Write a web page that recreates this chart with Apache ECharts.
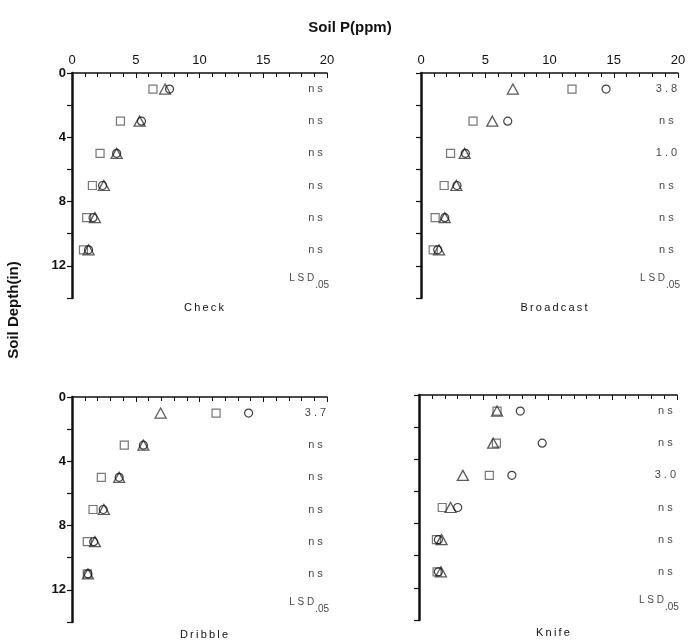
<!DOCTYPE html>
<html>
<head>
    <meta charset="utf-8">
    <title>soil p</title>
    <script src="https://cdn.jsdelivr.net/npm/echarts@6/dist/echarts.min.js"></script>
</head>
<body style="margin:0;background:#fff;">
    <div id="main" style="width: 689px;height:640px;"></div>
    <script type="text/javascript">
    // depth (in) of each row of points
    var depths = [1, 3, 5, 7, 9, 11];
    var yTickLabels = [0, 4, 8, 12];
    var panelNames = ['Check', 'Broadcast', 'Dribble', 'Knife'];

    // soil P (ppm)
    var checkSquare = [6.35, 3.8, 2.2, 1.6, 1.15, 0.9];
    var checkTriangle = [7.3, 5.3, 3.5, 2.5, 1.8, 1.3];
    var checkCircle = [7.65, 5.45, 3.5, 2.4, 1.65, 1.3];
    var broadcastSquare = [11.75, 4.05, 2.3, 1.8, 1.1, 0.95];
    var broadcastTriangle = [7.15, 5.55, 3.4, 2.75, 1.85, 1.4];
    var broadcastCircle = [14.4, 6.75, 3.45, 2.8, 1.85, 1.3];
    var dribbleSquare = [11.3, 4.1, 2.3, 1.65, 1.2, 1.2];
    var dribbleTriangle = [6.95, 5.6, 3.7, 2.5, 1.8, 1.25];
    var dribbleCircle = [13.85, 5.6, 3.7, 2.45, 1.7, 1.25];
    var knifeSquare = [6.05, 6.0, 5.45, 1.8, 1.35, 1.4];
    var knifeTriangle = [6.05, 5.75, 3.4, 2.45, 1.75, 1.7];
    var knifeCircle = [7.85, 9.55, 7.2, 3.0, 1.5, 1.5];

    // LSD .05 column
    var checkLsd = ['ns', 'ns', 'ns', 'ns', 'ns', 'ns'];
    var broadcastLsd = ['3.8', 'ns', '1.0', 'ns', 'ns', 'ns'];
    var dribbleLsd = ['3.7', 'ns', 'ns', 'ns', 'ns', 'ns'];
    var knifeLsd = ['ns', 'ns', '3.0', 'ns', 'ns', 'ns'];

    window.onload = function () {
        var myChart = echarts.init(document.getElementById('main'));
        var font = '"Liberation Sans", Arial, sans-serif';

        var panels = [
            {sq: checkSquare, tr: checkTriangle, ci: checkCircle, lsd: checkLsd},
            {sq: broadcastSquare, tr: broadcastTriangle, ci: broadcastCircle, lsd: broadcastLsd},
            {sq: dribbleSquare, tr: dribbleTriangle, ci: dribbleCircle, lsd: dribbleLsd},
            {sq: knifeSquare, tr: knifeTriangle, ci: knifeCircle, lsd: knifeLsd}
        ];
        var grids = [
            {left: 72, top: 73, width: 255, height: 225},
            {left: 421, top: 73, width: 257, height: 225},
            {left: 72, top: 397, width: 255, height: 225},
            {left: 419, top: 395, width: 258, height: 225}
        ];

        function pairs(xs) {
            return xs.map(function (v, i) { return [v, depths[i]]; });
        }

        var xAxes = [], yAxes = [], series = [];
        grids.forEach(function (g, k) {
            xAxes.push({
                gridIndex: k, type: 'value', position: 'top',
                min: 0, max: 20, interval: 5,
                axisLine: {onZero: false, lineStyle: {color: '#111', width: 1.5}},
                axisTick: {inside: true, length: 5, lineStyle: {color: '#111'}},
                minorTick: {show: true, splitNumber: 5, length: 4, lineStyle: {color: '#111'}},
                splitLine: {show: false},
                axisLabel: {show: k < 2, color: '#111', fontSize: 13, fontFamily: font, margin: 6}
            });
            yAxes.push({
                gridIndex: k, type: 'value', inverse: true,
                min: 0, max: 14, interval: 2,
                axisLine: {onZero: false, lineStyle: {color: '#111', width: 2.5}},
                axisTick: {length: 5, lineStyle: {color: '#111', width: 1.2}},
                splitLine: {show: false},
                axisLabel: {
                    show: k % 2 === 0, color: '#111', fontSize: 13, fontWeight: 'bold', fontFamily: font, margin: 6,
                    formatter: function (v) { return yTickLabels.indexOf(v) >= 0 ? v : ''; }
                }
            });
            var p = panels[k];
            series.push({
                type: 'scatter', xAxisIndex: k, yAxisIndex: k, symbol: 'rect', symbolSize: 8,
                itemStyle: {color: 'transparent', borderColor: '#555', borderWidth: 1.2},
                data: pairs(p.sq)
            });
            series.push({
                type: 'scatter', xAxisIndex: k, yAxisIndex: k, symbol: 'triangle', symbolSize: [11, 10],
                itemStyle: {color: 'transparent', borderColor: '#333', borderWidth: 1.3},
                data: pairs(p.tr)
            });
            series.push({
                type: 'scatter', xAxisIndex: k, yAxisIndex: k, symbol: 'circle', symbolSize: 8,
                itemStyle: {color: 'transparent', borderColor: '#111', borderWidth: 1.2},
                data: pairs(p.ci)
            });
            // LSD column as text
            series.push({
                type: 'scatter', xAxisIndex: k, yAxisIndex: k, symbolSize: 0, silent: true,
                label: {
                    show: true, position: 'inside', color: '#111', fontSize: 11, fontFamily: font,
                    formatter: function (d) { return d.value[2]; }
                },
                data: p.lsd.map(function (s, i) { return [19.1, depths[i], s.split('').join(' ')]; })
            });
            series.push({
                type: 'scatter', xAxisIndex: k, yAxisIndex: k, symbolSize: 0, silent: true,
                label: {
                    show: true, position: 'inside', color: '#111', fontSize: 10, fontFamily: font,
                    formatter: 'L S D{s|.05}',
                    rich: {s: {fontSize: 10, fontFamily: font, color: '#111', padding: [14, 0, 0, 1]}}
                },
                data: [[18.6, 12.8]]
            });
        });

        var titles = [{
            text: 'Soil P(ppm)', left: 345, top: 15, textAlign: 'center',
            textStyle: {fontSize: 15, fontWeight: 'bold', color: '#111', fontFamily: font}
        }];
        var titlePos = [[199, 297], [549, 297], [199, 624], [548, 622]];
        panelNames.forEach(function (n, k) {
            titles.push({
                text: n.split('').join(' ').replace(/ /g, '\u2009'), left: titlePos[k][0], top: titlePos[k][1], textAlign: 'center',
                textStyle: {fontSize: 11, fontWeight: 'normal', color: '#111', fontFamily: font}
            });
        });

        myChart.setOption({
            animation: false,
            backgroundColor: '#fff',
            title: titles,
            grid: grids,
            xAxis: xAxes,
            yAxis: yAxes,
            series: series,
            graphic: [{
                type: 'text', x: 14, y: 310, rotation: Math.PI / 2,
                style: {
                    text: 'Soil Depth(in)', fill: '#111', fontSize: 15, fontWeight: 'bold',
                    fontFamily: font, textAlign: 'center', textVerticalAlign: 'middle'
                }
            }]
        });
    };
    </script>
</body>
</html>
